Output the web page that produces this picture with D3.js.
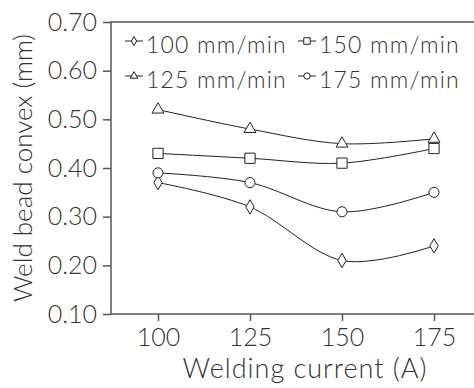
<!DOCTYPE html>
<meta charset="utf-8">
<style>
body { margin: 0; background: #fff; }
svg { display: block; font-family: Lato, 'Open Sans', sans-serif; font-weight: 300; }
.series { fill: none; stroke: #222; stroke-width: 1; }
.mark { fill: #fff; stroke: #222; stroke-width: 1; }
</style>
<body>
<div id="chart"></div>
<script src="https://cdn.jsdelivr.net/npm/d3@7"></script>
<script>
var currents = [100, 125, 150, 175];
var speeds = ['100 mm/min', '125 mm/min', '150 mm/min', '175 mm/min'];
var v100 = [0.37, 0.32, 0.21, 0.24];
var v125 = [0.52, 0.48, 0.45, 0.46];
var v150 = [0.43, 0.42, 0.41, 0.44];
var v175 = [0.39, 0.37, 0.31, 0.35];
var yTicks = [0.10, 0.20, 0.30, 0.40, 0.50, 0.60, 0.70];

var series = [
  { name: speeds[0], values: v100, sym: d3.symbolDiamond, size: 60 },
  { name: speeds[1], values: v125, sym: d3.symbolTriangle, size: 62 },
  { name: speeds[2], values: v150, sym: d3.symbolSquare, size: 105 },
  { name: speeds[3], values: v175, sym: d3.symbolCircle, size: 80 }
];

var W = 474, H = 388;
var svg = d3.select('#chart').append('svg')
    .attr('width', W)
    .attr('height', H);

var x = d3.scaleLinear().domain([87.5, 187.5]).range([112, 480]);
var y = d3.scaleLinear().domain([0.1, 0.7]).range([314, 22]);

// frame
svg.append('path')
  .attr('d', 'M480,22H111V314H480')
  .attr('fill', 'none')
  .attr('stroke', '#555')
  .attr('stroke-width', 1.5);

var yAxis = svg.append('g')
  .attr('transform', 'translate(111,0)')
  .call(d3.axisLeft(y).tickValues(yTicks).tickFormat(d3.format('.2f')).tickSize(8).tickPadding(6))
  .attr('font-family', null)
  .attr('font-size', 25);
yAxis.select('.domain').remove();
yAxis.selectAll('line').attr('stroke', '#555').attr('stroke-width', 1.5);
yAxis.selectAll('text').attr('fill', '#333');

var xAxis = svg.append('g')
  .attr('transform', 'translate(0,314)')
  .call(d3.axisBottom(x).tickValues(currents).tickSize(7).tickPadding(7))
  .attr('font-family', null)
  .attr('font-size', 25);
xAxis.select('.domain').remove();
xAxis.selectAll('line').attr('stroke', '#555').attr('stroke-width', 1.5);
xAxis.selectAll('text').attr('fill', '#333');

svg.append('text')
  .attr('x', 305)
  .attr('y', 378)
  .attr('text-anchor', 'middle')
  .attr('font-size', 27)
  .attr('letter-spacing', 1)
  .attr('fill', '#333')
  .text('Welding current (A)');

svg.append('text')
  .attr('transform', 'translate(32,168) rotate(-90)')
  .attr('text-anchor', 'middle')
  .attr('font-size', 26)
  .attr('fill', '#333')
  .text('Weld bead convex (mm)');

var line = d3.line()
  .x(function(d, i) { return x(currents[i]); })
  .y(function(d) { return y(d); })
  .curve(d3.curveCatmullRom.alpha(0));

series.forEach(function(s) {
  svg.append('path').attr('class', 'series').attr('d', line(s.values));
  svg.selectAll(null)
    .data(s.values)
    .enter().append('path')
      .attr('class', 'mark')
      .attr('transform', function(d, i) { return 'translate(' + x(currents[i]) + ',' + y(d) + ')'; })
      .attr('d', d3.symbol().type(s.sym).size(s.size));
});

// legend: two columns, two rows
var legPos = [[125, 41], [125, 76], [298, 41], [298, 76]];
series.forEach(function(s, i) {
  var g = svg.append('g').attr('transform', 'translate(' + legPos[i][0] + ',' + legPos[i][1] + ')');
  g.append('line').attr('x1', 0).attr('x2', 18).attr('stroke', '#222').attr('stroke-width', 1);
  g.append('path').attr('class', 'mark').attr('transform', 'translate(9,0)')
    .attr('d', d3.symbol().type(s.sym).size(s.size * 0.4));
  g.append('text')
    .attr('x', 21)
    .attr('y', 12)
    .attr('font-size', 23)
    .attr('letter-spacing', 1.2)
    .attr('fill', '#333')
    .text(s.name);
});
</script>
</body>
